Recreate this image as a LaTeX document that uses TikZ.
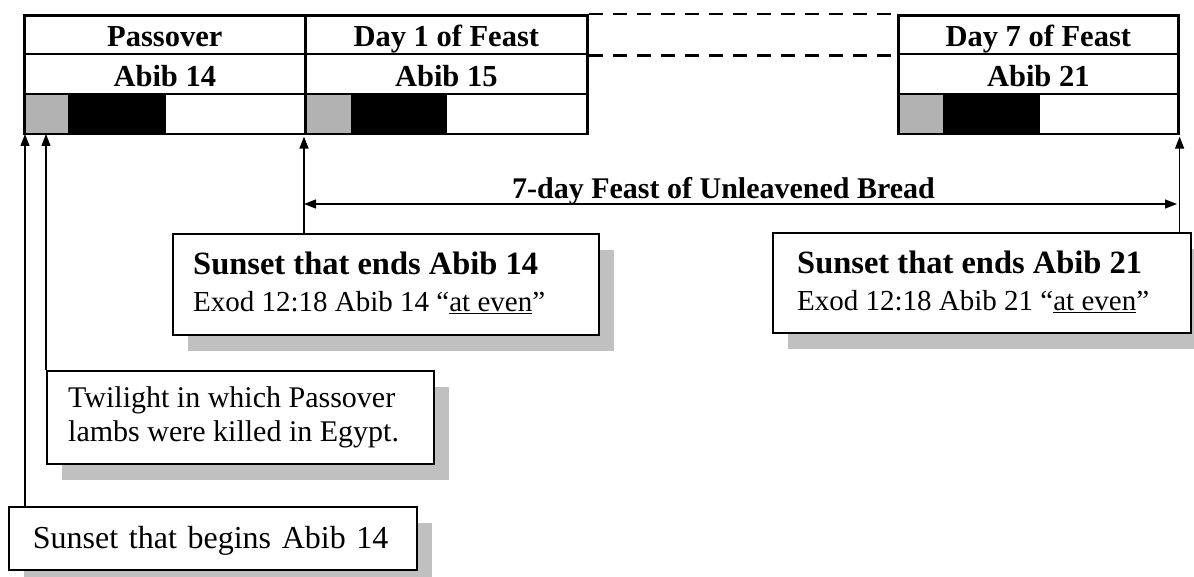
\documentclass[tikz,border=0pt]{standalone}
\usepackage{fontspec}
\setmainfont{Liberation Serif}
\usetikzlibrary{arrows.meta,shadows}
\definecolor{cellgray}{HTML}{B2B2B2}
\definecolor{shadowgray}{HTML}{C0C0C0}
\begin{document}
\begin{tikzpicture}[x=1pt,y=-1pt,
  hcell/.style={draw, line width=2.6pt, anchor=north west, inner sep=0pt, text height=29.6pt, text depth=5pt, font=\fontsize{30.5}{36}\selectfont\bfseries},
  barcell/.style={draw, line width=2.6pt, anchor=north west, inner sep=0pt, minimum height=40pt},
  dashline/.style={line width=2.6pt, dash pattern=on 14pt off 10pt},
  shbox/.style={draw, line width=1.8pt, fill=white, anchor=north west, inner sep=0pt, drop shadow={shadow xshift=15pt, shadow yshift=-16pt, fill=shadowgray, opacity=1}},
  arr/.style={line width=1.3pt, shorten >=1.3pt, -{Triangle[length=12pt,width=9pt]}},
  darr/.style={line width=1.3pt, {Triangle[length=12pt,width=9pt]}-{Triangle[length=12pt,width=9pt]}},
  ttl/.style={anchor=base west, inner sep=0pt, font=\fontsize{32.5}{38}\selectfont\bfseries},
  subt/.style={anchor=base west, inner sep=0pt, font=\fontsize{29}{34}\selectfont},
]
\useasboundingbox (0,0) rectangle (1194,577);

% day bars: twilight (gray), night (black), day (white)
\fill[cellgray] (23,92.7) rectangle (68,132.7);
\fill[black] (68,92.7) rectangle (166,132.7);
\fill[cellgray] (304,92.7) rectangle (351,132.7);
\fill[black] (351,92.7) rectangle (447,132.7);
\fill[cellgray] (897,92.7) rectangle (943,132.7);
\fill[black] (943,92.7) rectangle (1040,132.7);

% table cells
\node[hcell, minimum width=281pt, minimum height=38.7pt] (h1) at (23,14) {Passover};
\node[hcell, minimum width=281pt, minimum height=40pt] (d1) at (23,52.7) {Abib 14};
\node[barcell, minimum width=281pt] (b1) at (23,92.7) {};
\node[hcell, minimum width=282pt, minimum height=38.7pt] (h2) at (304,14) {Day 1 of Feast};
\node[hcell, minimum width=282pt, minimum height=40pt] (d2) at (304,52.7) {Abib 15};
\node[barcell, minimum width=282pt] (b2) at (304,92.7) {};
\node[hcell, minimum width=280pt, minimum height=38.7pt] (h3) at (897,14) {Day 7 of Feast};
\node[hcell, minimum width=280pt, minimum height=40pt] (d3) at (897,52.7) {Abib 21};
\node[barcell, minimum width=280pt] (b3) at (897,92.7) {};

\draw[dashline] (h2.north east) -- (h3.north west);
\draw[dashline] (h2.south east) -- (h3.south west);

% callout boxes
\node[shbox, minimum width=426pt, minimum height=101pt] (e14) at (172,233) {};
\node[ttl] (e14t) at (193,275) {Sunset that ends Abib 14};
\node[subt] (e14s) at (193,312) {Exod 12:18 Abib 14 “\underline{at even}”};

\node[shbox, minimum width=418pt, minimum height=100pt] (e21) at (772,232) {};
\node[ttl] (e21t) at (797,274) {Sunset that ends Abib 21};
\node[subt] (e21s) at (797,311) {Exod 12:18 Abib 21 “\underline{at even}”};

\node[shbox, minimum width=387pt, minimum height=93pt] (tw) at (46,370) {};
\node[anchor=base west, inner sep=0pt, align=left, font=\fontsize{30}{34.7}\selectfont] (twt) at (68,441.7) {Twilight in which Passover\\lambs were killed in Egypt.};

\node[shbox, minimum width=408pt, minimum height=63pt, text width=360pt, align=left, inner xsep=24pt, text height=27pt, text depth=6pt, font=\fontsize{32}{38}\selectfont] (sb) at (8,506) {Sunset that begins Abib 14};

% arrows
\coordinate (t1) at (25,132.7);
\coordinate (t2) at (46,132.7);
\draw[arr] (sb.north -| t1) -- (t1);
\draw[arr] (tw.north west) -- (t2);
\draw[arr] (e14.north -| b2.south west) -- (b2.south west);
\draw[arr] (e21.north -| b3.south east) -- (b3.south east);

\coordinate (fl) at (304,204);
\coordinate (fr) at (1177,204);
\draw[darr] (fl) -- (fr);
\node[anchor=base, inner sep=0pt, font=\fontsize{30}{36}\selectfont\bfseries] (fe) at (723.5,199) {7-day Feast of Unleavened Bread};
\end{tikzpicture}
\end{document}
